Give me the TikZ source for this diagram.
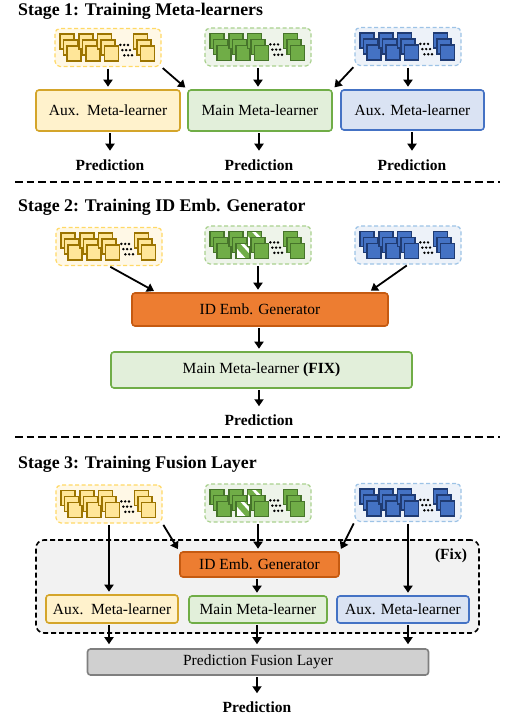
\documentclass[tikz,border=0pt]{standalone}
\usepackage{fontspec}
\setmainfont{Liberation Serif}
\usetikzlibrary{arrows.meta}

\definecolor{ylwfill}{HTML}{FFE699}
\definecolor{ylwline}{HTML}{9C7400}
\definecolor{ylwbg}{HTML}{FFF8E6}
\definecolor{ylwdash}{HTML}{FFD966}
\definecolor{ylwbox}{HTML}{FFF2CC}
\definecolor{ylwboxline}{HTML}{D4A52A}
\definecolor{grnfill}{HTML}{70AD47}
\definecolor{grnline}{HTML}{46742A}
\definecolor{grnbg}{HTML}{EEF4EA}
\definecolor{grndash}{HTML}{A9D18E}
\definecolor{grnbox}{HTML}{E2EFDA}
\definecolor{grnboxline}{HTML}{70AD47}
\definecolor{blufill}{HTML}{4472C4}
\definecolor{bluline}{HTML}{1F3B73}
\definecolor{blubg}{HTML}{EDF2F9}
\definecolor{bludash}{HTML}{9DC3E6}
\definecolor{blubox}{HTML}{DAE3F3}
\definecolor{bluboxline}{HTML}{4472C4}
\definecolor{genfill}{HTML}{ED7D31}
\definecolor{genline}{HTML}{C55A11}
\definecolor{fusfill}{HTML}{D0D0D0}
\definecolor{fusline}{HTML}{7F7F7F}
\definecolor{fixbg}{HTML}{F2F2F2}

\tikzset{
  txt/.style={font=\fontsize{15.5}{18}\selectfont},
  stagetitle/.style={font=\fontsize{17.8}{20}\selectfont\bfseries, anchor=base west, inner sep=0pt},
  pred/.style={font=\fontsize{15.5}{18}\selectfont\bfseries, anchor=base, inner sep=0pt, outer ysep=6pt},
  grp/.style={draw, dash pattern=on 4pt off 2.5pt, line width=1.2pt, rounded corners=5pt,
    minimum width=106pt, minimum height=38pt, inner sep=0pt},
  box/.style={txt, draw, line width=1.6pt, rounded corners=3pt, inner sep=0pt},
  ylw card/.style={draw=ylwline, fill=ylwfill, line width=1.3pt},
  grn card/.style={draw=grnline, fill=grnfill, line width=1.3pt},
  blu card/.style={draw=bluline, fill=blufill, line width=1.3pt},
  arr/.style={-{Triangle[length=7pt,width=9pt]}, line width=1.8pt, shorten <=1.5pt, shorten >=2.5pt},
  sep/.style={line width=2.5pt, dash pattern=on 7.5pt off 4pt}
}

% masked card: white with a diagonal band
\newcommand{\maskcard}[2]{%
  \fill[white] (#1,#2) rectangle ++(14,15);
  \fill[grnfill] (#1,#2) -- ++(4,0) -- ++(10,11) -- ++(0,4) -- ++(-4,0) -- ++(-10,-11) -- cycle;
  \fill[grnfill] (#1+8,#2) -- ++(6,0) -- ++(0,6) -- cycle;
  \draw[grnline, line width=1.3pt] (#1,#2) rectangle ++(14,15);}

% four stacks of cards and the dots, inside group node #1
\newcommand{\cardgroup}[3]{%
  \begin{scope}[shift={(#1.north west)}]
  \foreach \sx in {5.5,24.5,43,79}{
    \foreach \k in {0,1,2}{
      \draw[#2 card] (\sx+3.5*\k,6+6*\k) rectangle ++(14,15);
      \ifnum#3=1
        \ifdim\sx pt=24.5pt \ifnum\k=2 \maskcard{\sx+3.5*\k}{6+6*\k}\fi\fi
        \ifdim\sx pt=43pt \ifnum\k=0 \maskcard{\sx+3.5*\k}{6+6*\k}\fi\fi
      \fi}}
  \foreach \r in {0,1,2}{
    \foreach \c in {0,1,2}{
      \fill (66+2*\r+3.8*\c,17+5.2*\r) circle (1.35);}}
  \end{scope}}

\begin{document}
\begin{tikzpicture}[x=1pt,y=-1pt]
\useasboundingbox (0,0) rectangle (509,723);

% ---- Stage 1
\node[stagetitle] (t1) at (18,15) {Stage 1: Training Meta-learners};

\node[grp, draw=ylwdash, fill=ylwbg] (y1) at (108,47.5) {};
\node[grp, draw=grndash, fill=grnbg] (g1) at (258,47) {};
\node[grp, draw=bludash, fill=blubg] (b1) at (408,46.5) {};
\cardgroup{y1}{ylw}{0}
\cardgroup{g1}{grn}{0}
\cardgroup{b1}{blu}{0}

\node[box, draw=ylwboxline, fill=ylwbox, minimum width=144pt, minimum height=41pt] (a1) at (108,110.5) {Aux.\ \ Meta-learner};
\node[box, draw=grnboxline, fill=grnbox, minimum width=144pt, minimum height=41pt] (m1) at (260,110.5) {Main Meta-learner};
\node[box, draw=bluboxline, fill=blubox, minimum width=143pt, minimum height=40pt] (x1) at (412.5,110) {Aux. Meta-learner};

\node[pred] (p1a) at (110,170) {Prediction};
\node[pred] (p1m) at (259,170) {Prediction};
\node[pred] (p1x) at (412,170) {Prediction};

\draw[arr] (y1.south) -- (y1.south |- a1.north);
\draw[arr] (y1.south east) -- (m1.north west);
\draw[arr] (g1.south) -- (g1.south |- m1.north);
\draw[arr] (b1.south west) -- (m1.north east);
\draw[arr] (b1.south) -- (b1.south |- x1.north);
\draw[arr] (p1a.north |- a1.south) -- (p1a.north);
\draw[arr] (p1m.north |- m1.south) -- (p1m.north);
\draw[arr] (p1x.north |- x1.south) -- (p1x.north);

\draw[sep] (15,182) -- (500,182);

% ---- Stage 2
\node[stagetitle] (t2) at (18,211.5) {Stage 2: Training ID Emb. Generator};

\node[grp, draw=ylwdash, fill=ylwbg] (y2) at (109,246.5) {};
\node[grp, draw=grndash, fill=grnbg] (g2) at (258,245) {};
\node[grp, draw=bludash, fill=blubg] (b2) at (408,245) {};
\cardgroup{y2}{ylw}{0}
\cardgroup{g2}{grn}{1}
\cardgroup{b2}{blu}{0}

\node[box, draw=genline, fill=genfill, minimum width=256pt, minimum height=33pt] (gen2) at (260,309.5) {ID Emb. Generator};
\node[box, draw=grnboxline, fill=grnbox, minimum width=301pt, minimum height=36pt] (mm2) at (261.5,370) {Main Meta-learner \textbf{(FIX)}};
\node[pred] (p2) at (259,425.5) {Prediction};

\draw[arr] (y2.south) -- ([xshift=25pt]gen2.north west);
\draw[arr] (g2.south) -- (g2.south |- gen2.north);
\draw[arr] (b2.south) -- ([xshift=-20pt]gen2.north east);
\draw[arr] (gen2.south -| p2.north) -- (p2.north |- mm2.north);
\draw[arr] (p2.north |- mm2.south) -- (p2.north);

\draw[sep] (15,437) -- (500,437);

% ---- Stage 3
\node[stagetitle] (t3) at (18,468) {Stage 3: Training Fusion Layer};

\node[grp, draw=ylwdash, fill=ylwbg] (y3) at (109,504) {};
\node[grp, draw=grndash, fill=grnbg] (g3) at (258,503) {};
\node[grp, draw=bludash, fill=blubg] (b3) at (408,502.5) {};
\cardgroup{y3}{ylw}{0}
\cardgroup{g3}{grn}{1}
\cardgroup{b3}{blu}{0}

\node[draw, fill=fixbg, line width=1.6pt, dash pattern=on 5pt off 3pt, rounded corners=8pt,
  minimum width=443pt, minimum height=93pt, inner sep=0pt] (fix) at (257.5,586.5) {};
\node[font=\fontsize{15.5}{18}\selectfont\bfseries, inner sep=0pt] (fixlbl) at (451,556) {(Fix)};

\node[box, draw=genline, fill=genfill, minimum width=159pt, minimum height=25pt] (gen3) at (259.5,564.5) {ID Emb. Generator};
\node[box, draw=ylwboxline, fill=ylwbox, minimum width=132pt, minimum height=28pt] (a3) at (112,609) {Aux.\ \ Meta-learner};
\node[box, draw=grnboxline, fill=grnbox, minimum width=138pt, minimum height=27pt] (m3) at (258,609.5) {Main Meta-learner};
\node[box, draw=bluboxline, fill=blubox, minimum width=132pt, minimum height=27pt] (x3) at (403,609.5) {Aux. Meta-learner};

\node[box, draw=fusline, fill=fusfill, minimum width=341pt, minimum height=26pt] (fus) at (258,662) {Prediction Fusion Layer};
\node[pred] (p3) at (257,712.5) {Prediction};

\draw[arr] (y3.south) -- (y3.south |- a3.north);
\draw[arr] (y3.south east) -- (gen3.north west);
\draw[arr] (g3.south) -- (g3.south |- gen3.north);
\draw[arr] (b3.south west) -- (gen3.north east);
\draw[arr] (b3.south) -- (b3.south |- x3.north);
\draw[arr] (gen3.south -| p3.north) -- (p3.north |- m3.north);
\draw[arr, shorten >=4pt] (y3.south |- a3.south) -- (y3.south |- fus.north);
\draw[arr, shorten >=4pt] (p3.north |- m3.south) -- (p3.north |- fus.north);
\draw[arr, shorten >=4pt] (b3.south |- x3.south) -- (b3.south |- fus.north);
\draw[arr] (p3.north |- fus.south) -- (p3.north);

\end{tikzpicture}
\end{document}
